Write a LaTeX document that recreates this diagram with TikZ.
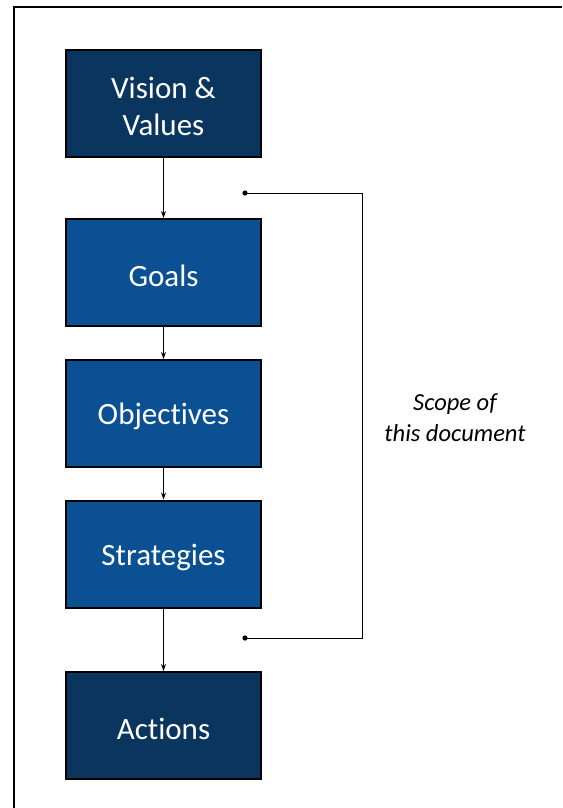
\documentclass[tikz,border=0pt]{standalone}
\usepackage{fontspec}
\setmainfont{Carlito}[Ligatures={NoCommon}]
\usetikzlibrary{arrows.meta}
\definecolor{navy}{RGB}{9,53,95}
\definecolor{midblue}{RGB}{11,80,146}
\newcommand{\boxtext}[1]{\raisebox{-3pt}[\height][\depth]{#1}}
\tikzset{
  stage/.style={draw=black, line width=2pt, minimum width=195pt, minimum height=107pt,
    text=white, align=center, inner sep=0pt,
    font=\fontsize{31}{37}\selectfont},
  outer/.style={stage, fill=navy},
  inner/.style={stage, fill=midblue},
  flow/.style={line width=0.8pt, -{Stealth[length=7pt,width=5pt]}},
  brace/.style={line width=0.9pt},
}
\begin{document}
\begin{tikzpicture}[x=1pt,y=-1pt]
  \useasboundingbox (0,0) rectangle (562,808);
  % page frame (left and top edges)
  \draw[line width=1.6pt] (14,808) -- (14,7) -- (562,7);

  % planning hierarchy
  \node[outer] (vision) at (163.5,103.5) {\boxtext{Vision \&}\\\boxtext{Values}};
  \node[inner] (goals) at (163.5,272.5) {\boxtext{Goals}};
  \node[inner] (objectives) at (163.5,413.5) {\boxtext{Objectives}};
  \node[inner] (strategies) at (163.5,554) {\boxtext{Strategies}};
  \node[outer] (actions) at (163.5,725.5) {\boxtext{Actions}};

  \draw[flow] (vision) -- (goals);
  \draw[flow] (goals) -- (objectives);
  \draw[flow] (objectives) -- (strategies);
  \draw[flow] (strategies) -- (actions);

  % scope bracket
  \coordinate (scopetop) at (245,193);
  \coordinate (scopebot) at (245,638);
  \coordinate (cornertop) at (362,193);
  \coordinate (cornerbot) at (362,638);
  \draw[brace] (scopetop) -- (cornertop) -- (cornerbot) -- (scopebot);
  \fill (scopetop) circle (2.6);
  \fill (scopebot) circle (2.6);

  \node[align=center, font=\fontsize{24.5}{31}\selectfont\itshape] (scope) at (455,418) {Scope of\\this document};
\end{tikzpicture}
\end{document}
